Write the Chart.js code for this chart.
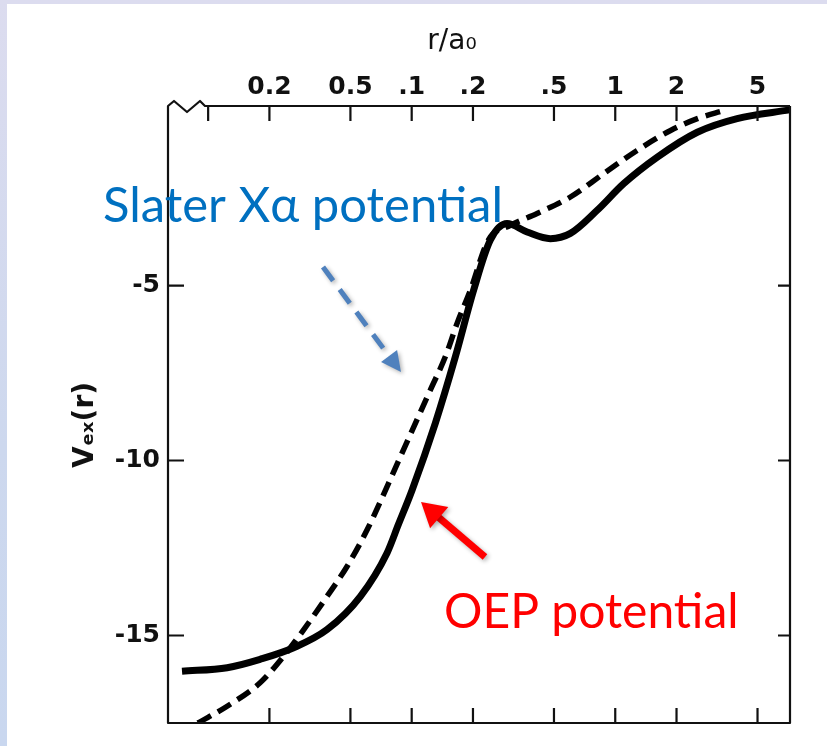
<!DOCTYPE html>
<html>
<head>
<meta charset="utf-8">
<script src="https://cdn.jsdelivr.net/npm/chart.js@4"></script>
<style>
  html, body { margin: 0; padding: 0; }
  body {
    width: 827px; height: 746px; overflow: hidden; position: relative;
    background: linear-gradient(180deg, #dcdcef 0%, #cdd8ee 60%, #c9d7ef 100%);
  }
  #paper { position: absolute; left: 7px; top: 4px; right: 0; bottom: 0; background: #fff; }
  #chart { position: absolute; left: 0; top: 0; }
</style>
</head>
<body>
<div id="paper"></div>
<canvas id="chart" width="827" height="746"></canvas>
<script>
// r / a0 (log axis) and Vex(r)
const rTicks = [0.02, 0.05, 0.1, 0.2, 0.5, 1, 2, 5];
const rTickLabels = ['0.2', '0.5', '.1', '.2', '.5', '1', '2', '5'];
const vTicks = [-15, -10, -5];

// OEP potential (solid)
const oepR = [0.00744, 0.0124, 0.018, 0.0263, 0.0384, 0.056, 0.0757, 0.086, 0.1005, 0.1307, 0.164, 0.2016, 0.2435, 0.294, 0.369, 0.48, 0.602, 0.815, 1.10, 1.61, 2.53, 3.97, 7.2];
const oepV = [-16.02, -15.92, -15.68, -15.35, -14.83, -13.88, -12.64, -11.83, -10.84, -8.93, -7.03, -5.13, -3.70, -3.23, -3.47, -3.66, -3.51, -2.85, -2.09, -1.33, -0.62, -0.23, 0.02];

// Slater X-alpha potential (dashed)
const slaterR = [0.0089, 0.0124, 0.018, 0.0235, 0.0295, 0.0384, 0.0482, 0.0604, 0.088, 0.1236, 0.1464, 0.1671, 0.1943, 0.238, 0.3055, 0.413, 0.602, 0.878, 1.28, 1.87, 2.53, 3.41];
const slaterV = [-17.5, -17.02, -16.35, -15.59, -14.83, -13.88, -13.02, -11.98, -9.89, -7.98, -7.03, -6.08, -5.13, -3.70, -3.28, -2.94, -2.47, -1.80, -1.14, -0.57, -0.23, 0.0];

const tickFont = { family: 'DejaVu Sans', size: 25, weight: 'bold' };

const framePlugin = {
  id: 'frame',
  afterDraw(chart) {
    const ctx = chart.ctx;
    const a = chart.chartArea;
    const xs = chart.scales.x, ys = chart.scales.y;
    const L = a.left, R = a.right, T = a.top, B = a.bottom;
    ctx.save();
    ctx.strokeStyle = '#111';
    ctx.lineWidth = 2.2;
    ctx.lineJoin = 'round';
    // frame with the axis break at top left
    ctx.beginPath();
    ctx.moveTo(R, T);
    ctx.lineTo(L + 37, T);
    ctx.lineTo(L + 32, T - 5);
    ctx.lineTo(L + 19, T + 6);
    ctx.lineTo(L + 6, T - 5);
    ctx.lineTo(L, T);
    ctx.lineTo(L, B);
    ctx.lineTo(R, B);
    ctx.lineTo(R, T);
    ctx.stroke();
    // inward ticks
    ctx.beginPath();
    [0.01].concat(rTicks).forEach(v => {
      const x = xs.getPixelForValue(v);
      ctx.moveTo(x, T); ctx.lineTo(x, T + 15);
    });
    rTicks.forEach(v => {
      const x = xs.getPixelForValue(v);
      ctx.moveTo(x, B); ctx.lineTo(x, B - 15);
    });
    vTicks.forEach(v => {
      const y = ys.getPixelForValue(v);
      ctx.moveTo(L, y); ctx.lineTo(L + 16, y);
      ctx.moveTo(R, y); ctx.lineTo(R - 12, y);
    });
    ctx.stroke();

    // axis titles
    ctx.fillStyle = '#111';
    ctx.font = '28px "DejaVu Sans"';
    ctx.textAlign = 'center';
    ctx.textBaseline = 'middle';
    ctx.fillText('r/a\u2080', 452, 42);
    ctx.save();
    ctx.translate(86, 425);
    ctx.rotate(-Math.PI / 2);
    ctx.font = 'bold 28px "DejaVu Sans"';
    ctx.fillText('V\u2091\u2093(r)', 0, 0);
    ctx.restore();

    // annotations
    ctx.textAlign = 'left';
    ctx.textBaseline = 'alphabetic';
    ctx.font = '49px Lato, "Noto Sans", sans-serif';
    ctx.fillStyle = '#0070c0';
    ctx.fillText('Slater X\u03b1 potential', 103, 222);
    ctx.font = '48px Lato, "Noto Sans", sans-serif';
    ctx.fillStyle = '#ff0000';
    ctx.fillText('OEP potential', 444, 628);

    // blue dashed arrow
    ctx.shadowColor = 'rgba(0,0,0,0.3)';
    ctx.shadowBlur = 4;
    ctx.shadowOffsetX = 2;
    ctx.shadowOffsetY = 2;
    ctx.strokeStyle = '#4f81bd';
    ctx.fillStyle = '#4f81bd';
    ctx.lineWidth = 5;
    ctx.setLineDash([17, 11]);
    ctx.beginPath();
    ctx.moveTo(323, 267);
    ctx.lineTo(389, 356);
    ctx.stroke();
    ctx.setLineDash([]);
    drawHead(ctx, 323, 267, 401, 372, 20, 10);

    // red arrow
    ctx.strokeStyle = '#ff0000';
    ctx.fillStyle = '#ff0000';
    ctx.lineWidth = 7;
    ctx.beginPath();
    ctx.moveTo(485, 557);
    ctx.lineTo(437, 516);
    ctx.stroke();
    drawHead(ctx, 485, 557, 421, 502, 24, 14);
    ctx.restore();
  }
};

function drawHead(ctx, x0, y0, x1, y1, len, half) {
  const ang = Math.atan2(y1 - y0, x1 - x0);
  const bx = x1 - len * Math.cos(ang), by = y1 - len * Math.sin(ang);
  ctx.beginPath();
  ctx.moveTo(x1, y1);
  ctx.lineTo(bx + half * Math.sin(ang), by - half * Math.cos(ang));
  ctx.lineTo(bx - half * Math.sin(ang), by + half * Math.cos(ang));
  ctx.closePath();
  ctx.fill();
}

new Chart(document.getElementById('chart'), {
  type: 'line',
  data: {
    datasets: [{
      label: 'OEP potential',
      data: oepR.map((r, i) => ({ x: r, y: oepV[i] })),
      borderColor: '#000',
      borderWidth: 7,
      pointRadius: 0,
      cubicInterpolationMode: 'monotone',
      fill: false
    }, {
      label: 'Slater X\u03b1 potential',
      data: slaterR.map((r, i) => ({ x: r, y: slaterV[i] })),
      borderColor: '#000',
      borderWidth: 5.5,
      borderDash: [15, 8],
      pointRadius: 0,
      cubicInterpolationMode: 'monotone',
      fill: false
    }]
  },
  options: {
    responsive: false,
    animation: false,
    devicePixelRatio: 1,
    layout: { padding: { left: 0, top: 0, right: 37, bottom: 22 } },
    plugins: { legend: { display: false }, tooltip: { enabled: false } },
    scales: {
      x: {
        type: 'logarithmic',
        position: 'top',
        min: 0.00635,
        max: 7.22,
        grid: { display: false, drawTicks: false },
        border: { display: false },
        afterBuildTicks: s => { s.ticks = rTicks.map(v => ({ value: v })); },
        afterFit: s => { s.height = 106; },
        ticks: {
          autoSkip: false,
          maxRotation: 0,
          padding: 4,
          color: '#111',
          font: tickFont,
          callback: v => {
            const i = rTicks.findIndex(t => Math.abs(t - v) < 1e-9);
            return i >= 0 ? rTickLabels[i] : '';
          }
        }
      },
      y: {
        type: 'linear',
        min: -17.5,
        max: 0.13,
        grid: { display: false, drawTicks: false },
        border: { display: false },
        afterBuildTicks: s => { s.ticks = vTicks.map(v => ({ value: v })); },
        afterFit: s => { s.width = 168; },
        ticks: { padding: 8, color: '#111', font: tickFont }
      }
    }
  },
  plugins: [framePlugin]
});
</script>
</body>
</html>
